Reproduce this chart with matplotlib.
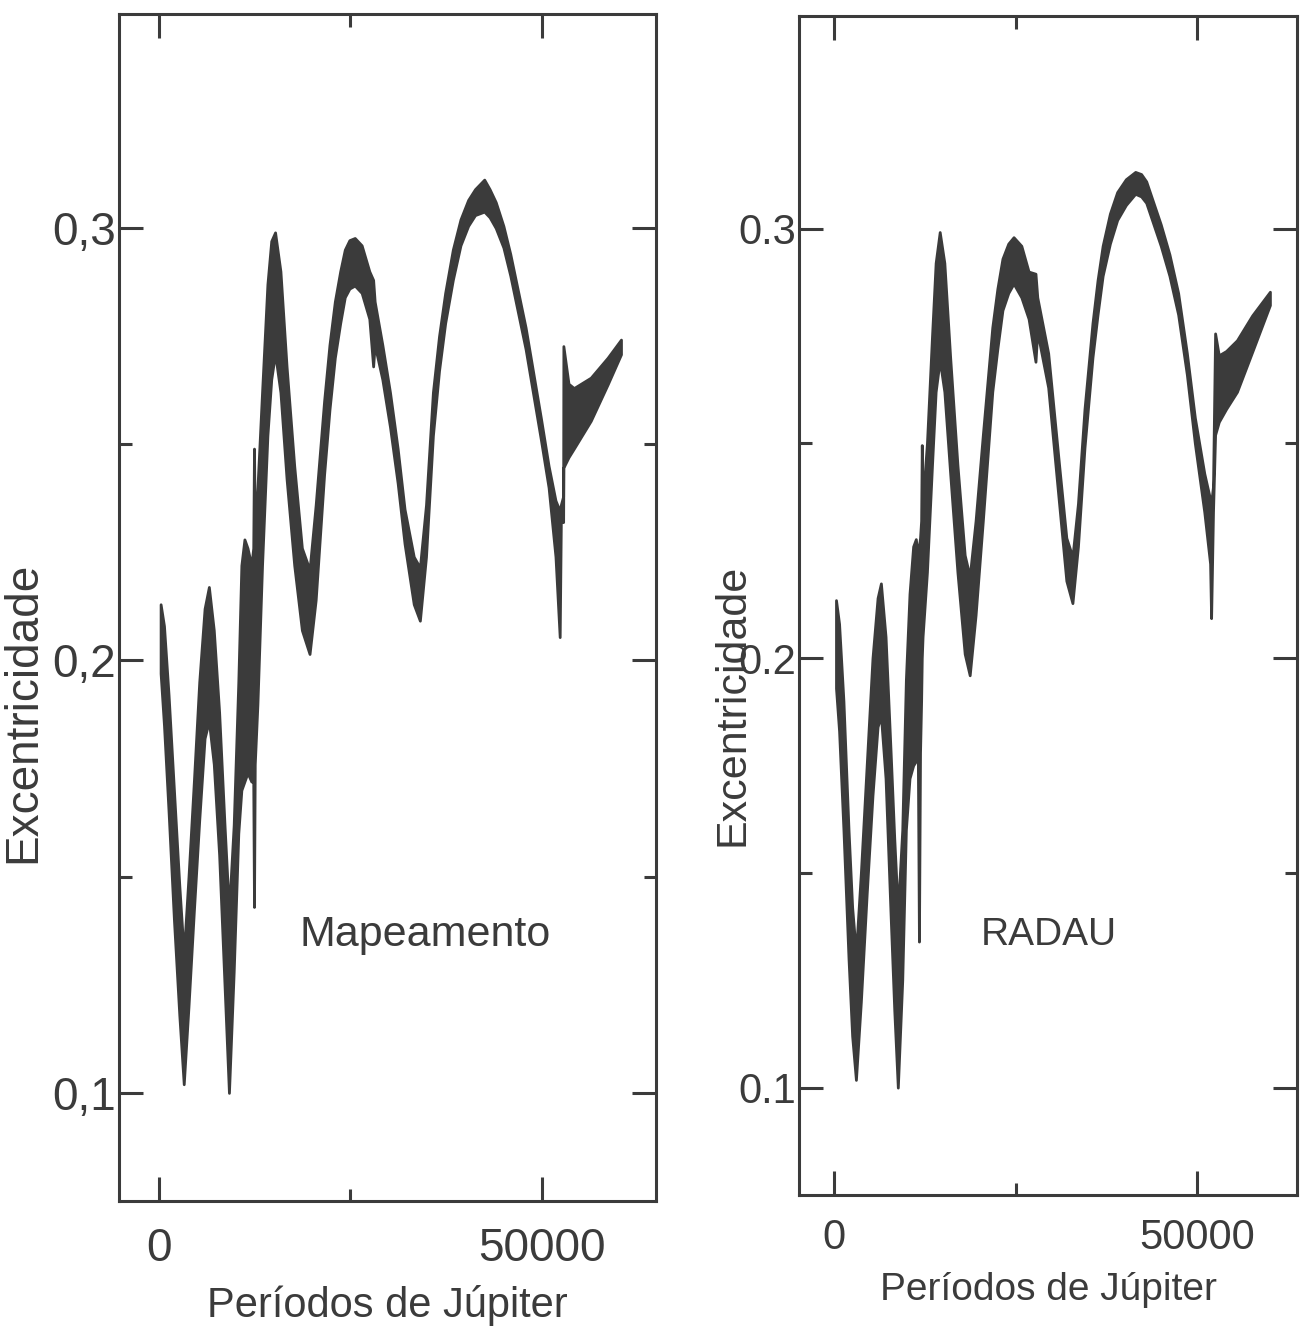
import matplotlib
matplotlib.use("Agg")
import matplotlib.pyplot as plt
from matplotlib.ticker import FixedLocator

plt.rcParams['font.family'] = ['Liberation Sans', 'DejaVu Sans']

# ---------------- data ----------------
# Left panel: "Mapeamento" -- band envelope (upper / lower) of eccentricity
map_x = [260, 700, 1300, 2000, 2700, 3280, 3900, 4600, 5300, 6000,
         6560, 7200, 7900, 8600, 9180, 9800, 10400, 10800, 11200, 11600,
         12100, 12350, 12450, 12550, 12900, 13500, 14200, 14700, 15200, 15900,
         16700, 17700, 18700, 19700, 20500, 21600, 22300, 23000, 23700, 24300,
         24900, 25600, 26500, 27500, 28000, 28200, 29200, 30200, 31200, 32100,
         33300, 34100, 34900, 35800, 36600, 37400, 38400, 39400, 40400, 41300,
         42500, 43200, 44000, 45000, 45900, 47900, 49900, 50900, 51800, 52350,
         52500, 52800, 52830, 53500, 54200, 56400, 58600, 60350]
map_upper = [0.213, 0.208, 0.192, 0.170, 0.148, 0.132, 0.150, 0.172, 0.195, 0.212,
             0.217, 0.207, 0.188, 0.162, 0.142, 0.162, 0.195, 0.222, 0.228, 0.226,
             0.222, 0.226, 0.249, 0.230, 0.240, 0.262, 0.287, 0.297, 0.299, 0.290,
             0.268, 0.245, 0.226, 0.221, 0.236, 0.260, 0.273, 0.283, 0.290, 0.295,
             0.2972, 0.2977, 0.296, 0.290, 0.288, 0.283, 0.273, 0.262, 0.249, 0.235,
             0.224, 0.2215, 0.236, 0.262, 0.275, 0.285, 0.295, 0.302, 0.3065, 0.309,
             0.3112, 0.309, 0.306, 0.3005, 0.294, 0.277, 0.256, 0.245, 0.237, 0.2346,
             0.236, 0.238, 0.2727, 0.264, 0.263, 0.2654, 0.270, 0.2742]
map_lower = [0.197, 0.185, 0.165, 0.140, 0.118, 0.102, 0.120, 0.142, 0.163, 0.182,
             0.186, 0.176, 0.155, 0.125, 0.100, 0.128, 0.160, 0.170, 0.172, 0.174,
             0.172, 0.172, 0.143, 0.176, 0.190, 0.222, 0.252, 0.265, 0.271, 0.262,
             0.242, 0.222, 0.207, 0.2015, 0.214, 0.243, 0.258, 0.270, 0.278, 0.284,
             0.286, 0.2867, 0.285, 0.279, 0.268, 0.273, 0.265, 0.254, 0.241, 0.227,
             0.213, 0.2092, 0.224, 0.252, 0.267, 0.278, 0.288, 0.296, 0.3005, 0.303,
             0.3038, 0.3025, 0.300, 0.2955, 0.289, 0.272, 0.251, 0.240, 0.224, 0.2054,
             0.232, 0.232, 0.2446, 0.247, 0.249, 0.2554, 0.2638, 0.2708]

# Right panel: "RADAU"
rad_x = [275, 700, 1300, 2000, 2500, 3020, 3700, 4500, 5300, 6000,
         6460, 7100, 7800, 8300, 8790, 9400, 9900, 10400, 10900, 11270,
         11550, 11700, 11850, 12000, 12090, 12200, 12800, 13500, 14000, 14560,
         15200, 16000, 17000, 18000, 18690, 19500, 20500, 21800, 22500, 23200,
         24000, 24730, 25800, 26800, 27750, 28000, 29500, 31000, 32000, 32840,
         33600, 34500, 35600, 36300, 37000, 38000, 39000, 40200, 41490, 42300,
         43000, 44000, 45000, 46200, 47400, 48600, 49700, 51000, 51800, 51940,
         52200, 52490, 53000, 54000, 55500, 57600, 60040]
rad_upper = [0.2135, 0.208, 0.190, 0.160, 0.142, 0.1313, 0.150, 0.175, 0.200, 0.214,
             0.2174, 0.205, 0.178, 0.158, 0.141, 0.160, 0.195, 0.215, 0.226, 0.2277,
             0.224, 0.226, 0.228, 0.232, 0.2496, 0.236, 0.250, 0.275, 0.292, 0.2992,
             0.292, 0.270, 0.245, 0.224, 0.219, 0.232, 0.252, 0.277, 0.286, 0.293,
             0.2965, 0.298, 0.296, 0.290, 0.2895, 0.284, 0.271, 0.245, 0.228, 0.2236,
             0.236, 0.258, 0.278, 0.288, 0.296, 0.3035, 0.3085, 0.3115, 0.3132, 0.3127,
             0.311, 0.306, 0.301, 0.294, 0.285, 0.271, 0.256, 0.243, 0.237, 0.236,
             0.240, 0.2756, 0.2705, 0.2715, 0.274, 0.2798, 0.2853]
rad_lower = [0.193, 0.183, 0.160, 0.130, 0.112, 0.1018, 0.120, 0.145, 0.168, 0.184,
             0.1866, 0.172, 0.140, 0.118, 0.100, 0.125, 0.160, 0.172, 0.175, 0.176,
             0.176, 0.134, 0.178, 0.190, 0.200, 0.205, 0.220, 0.245, 0.262, 0.2694,
             0.262, 0.243, 0.220, 0.201, 0.196, 0.210, 0.232, 0.262, 0.272, 0.281,
             0.285, 0.2872, 0.284, 0.279, 0.269, 0.276, 0.263, 0.236, 0.218, 0.2128,
             0.226, 0.249, 0.270, 0.280, 0.289, 0.2965, 0.302, 0.3055, 0.3081, 0.3075,
             0.306, 0.301, 0.296, 0.289, 0.280, 0.266, 0.250, 0.234, 0.222, 0.2093,
             0.234, 0.252, 0.255, 0.258, 0.262, 0.2713, 0.2822]

x_ticks = [0, 50000]
x_tick_labels = ["0", "50000"]
x_minor = [25000]
y_ticks = [0.1, 0.2, 0.3]
y_minor = [0.15, 0.25]
y_labels_left = ["0,1", "0,2", "0,3"]
y_labels_right = ["0.1", "0.2", "0.3"]
xlabel = "Períodos de Júpiter"
ylabel = "Excentricidade"
titles = ["Mapeamento", "RADAU"]

# ---------------- figure ----------------
INK = "#3b3b3b"
fig = plt.figure(figsize=(13.13, 13.27), dpi=100)
fig.patch.set_facecolor("white")

axL = fig.add_axes([119/1313, 1 - 1201/1327, 537/1313, 1187/1327])
axR = fig.add_axes([799/1313, 1 - 1195/1327, 498/1313, 1179/1327])

panels = [
    (axL, map_x, map_upper, map_lower, y_labels_left, (-5170, 64920), 33, 30, 19,
     titles[0], (0.57, 0.224), 31, (-0.138, 0.412), 33),
    (axR, rad_x, rad_upper, rad_lower, y_labels_right, (-4820, 63770), 30, 28, 16.5,
     titles[1], (0.501, 0.2205), 28, (-0.094, 0.4156), 31),
]

for (ax, xs, up, lo, ylabs, xlim, tfs, lfs, xpad, name, npos, nfs, ylpos, ylfs) in panels:
    ax.fill_between(xs, lo, up, color=INK, linewidth=2.0, edgecolor=INK)
    ax.set_xlim(*xlim)
    ax.set_ylim(0.075, 0.3495)
    ax.xaxis.set_major_locator(FixedLocator(x_ticks))
    ax.xaxis.set_minor_locator(FixedLocator(x_minor))
    ax.yaxis.set_major_locator(FixedLocator(y_ticks))
    ax.yaxis.set_minor_locator(FixedLocator(y_minor))
    ax.set_xticklabels(x_tick_labels)
    ax.set_yticklabels(ylabs)
    ax.tick_params(which="both", direction="in", top=True, right=True,
                   color=INK, width=2.2, labelcolor=INK)
    ax.tick_params(which="major", length=17)
    ax.tick_params(which="minor", length=9)
    ax.tick_params(axis="x", which="major", labelsize=tfs, pad=xpad)
    ax.tick_params(axis="y", which="major", labelsize=tfs, pad=2)
    for s in ax.spines.values():
        s.set_color(INK)
        s.set_linewidth(2.2)
    ax.set_xlabel(xlabel, fontsize=lfs, color=INK, labelpad=10)
    ax.set_ylabel(ylabel, fontsize=ylfs, color=INK)
    ax.yaxis.set_label_coords(*ylpos)
    ax.text(npos[0], npos[1], name, transform=ax.transAxes, ha="center",
            va="center", fontsize=nfs, color=INK)

fig.savefig("out.png", dpi=100, facecolor="white")
